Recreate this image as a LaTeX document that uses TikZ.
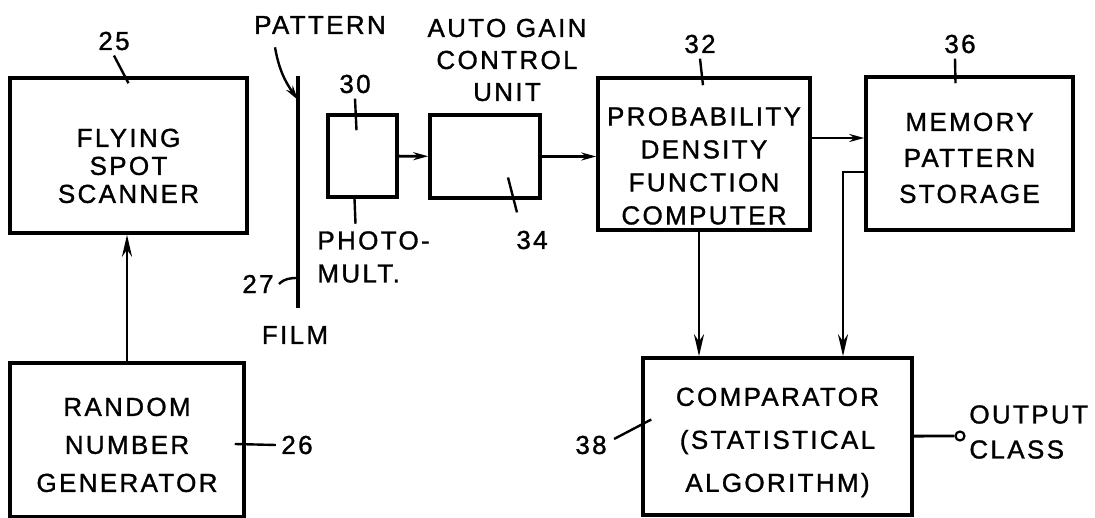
\documentclass[tikz,border=0pt]{standalone}
\usepackage{fontspec}
\setmainfont{Liberation Sans}[LetterSpace=9, FakeBold=1.2]
\usetikzlibrary{arrows.meta, positioning}

\begin{document}
\begin{tikzpicture}[
  x=1pt, y=-1pt,
  >={Stealth[length=22pt, width=10pt]},
  line width=2.8pt,
  every node/.style={inner sep=0pt, align=center, font=\fontsize{26}{30}\selectfont},
  blk/.style={draw, line width=3.5pt},
  numlbl/.style={inner sep=4pt},
  lead/.style={line width=2.4pt},
  sig/.style={->, >={Stealth[length=15pt, width=8pt]}}
]
\useasboundingbox (0,0) rectangle (1095,518);

% blocks
\node[blk, minimum width=237, minimum height=155, text height=95pt, font=\fontsize{26}{28}\selectfont] (fss) at (128.5,155.5) {FLYING\\SPOT\\SCANNER};
\node[blk, minimum width=234, minimum height=154, text height=104pt, font=\fontsize{26}{38}\selectfont] (rng) at (127,440) {RANDOM\\NUMBER\\GENERATOR};
\node[blk, minimum width=69, minimum height=82] (pmt) at (362.5,156) {};
\node[blk, minimum width=110, minimum height=83] (agc) at (485,156.5) {};
\node[blk, minimum width=212, minimum height=152, text height=141pt, font=\fontsize{26}{33}\selectfont] (pdf) at (704,154) {PROBABILITY\\DENSITY\\FUNCTION\\COMPUTER};
\node[blk, minimum width=207, minimum height=153, text height=99pt, font=\fontsize{26}{36}\selectfont] (mem) at (969.5,153.5) {MEMORY\\PATTERN\\STORAGE};
\node[blk, minimum width=269, minimum height=157, text height=116pt, font=\fontsize{26}{43}\selectfont] (comp) at (777.5,436.5) {COMPARATOR\\(STATISTICAL\\ALGORITHM)};

% film
\coordinate (filmtop) at (298,76);
\coordinate (filmbot) at (298,308);
\draw[line width=3.8pt] (filmtop) -- (filmbot);

% labels
\node (pat) at (320,25) {PATTERN};
\node (film) at (295,335) {FILM};
\node[align=left, anchor=west, font=\fontsize{26}{33}\selectfont] (pmtlbl) at (316,257) {PHOTO-\\MULT.};
\node[font=\fontsize{26}{32}\selectfont] (agclbl) at (507,60) {AUTO GAIN\\CONTROL\\UNIT};
\node[align=left, anchor=west, font=\fontsize{26}{35}\selectfont] (outlbl) at (968,432) {OUTPUT\\CLASS};
\node[numlbl] (n25) at (114,41) {25};
\node[numlbl] (n26) at (297,445) {26};
\node[numlbl] (n27) at (258,284) {27};
\node[numlbl] (n30) at (355,84) {30};
\node[numlbl] (n32) at (700,44) {32};
\node[numlbl] (n34) at (532,240) {34};
\node[numlbl] (n36) at (960,44) {36};
\node[numlbl] (n38) at (591,445) {38};
\node[draw, circle, line width=2.2pt, minimum size=9pt] (outpt) at (960,436) {};

% signal paths
\draw[->] (rng.north) -- (rng.north |- fss.south);
\draw[sig] (pmt) -- (agc);
\draw[sig] (agc.east) -- (agc.east -| pdf.west);
\draw[sig] ([shift={(0,-16)}]pdf.east) -- ([shift={(0,-16)}]pdf.east -| mem.west);
\draw[->] ([shift={(-5,0)}]pdf.south) -- ([shift={(-5,0)}]pdf.south |- comp.north);
\coordinate (bend) at (843,172);
\draw[->] (mem.west |- bend) -- (bend) -- (bend |- comp.north);
\draw (comp) -- (outpt);
\draw[sig, line width=2.4pt] ([shift={(-45,12)}]pat.south) to[out=-80, in=125] ([shift={(0,24)}]filmtop);

% reference leaders
\draw[lead] (n25.south) -- ([shift={(0,7)}]fss.north);
\draw[lead] ([shift={(-11,4)}]rng.east) -- (n26.west);
\draw[lead] (n27.east) to[out=45, in=180] ([shift={(0,-30)}]filmbot);
\draw[lead] (n30.south) -- ([shift={(-6,17)}]pmt.north);
\draw[lead] ([shift={(-8,0)}]pmt.south) -- ([shift={(-7,25)}]pmt.south);
\draw[lead] ([shift={(23,21)}]agc.center) -- ([shift={(6,-13)}]n34.north west);
\draw[lead] (n32.south) -- ([shift={(-1,9)}]pdf.north);
\draw[lead] ([shift={(-5,0)}]n36.south) -- ([shift={(-14,8)}]mem.north);
\draw[lead] ([shift={(2,-6)}]n38.east) -- ([shift={(10,-17)}]comp.west);
\end{tikzpicture}
\end{document}
